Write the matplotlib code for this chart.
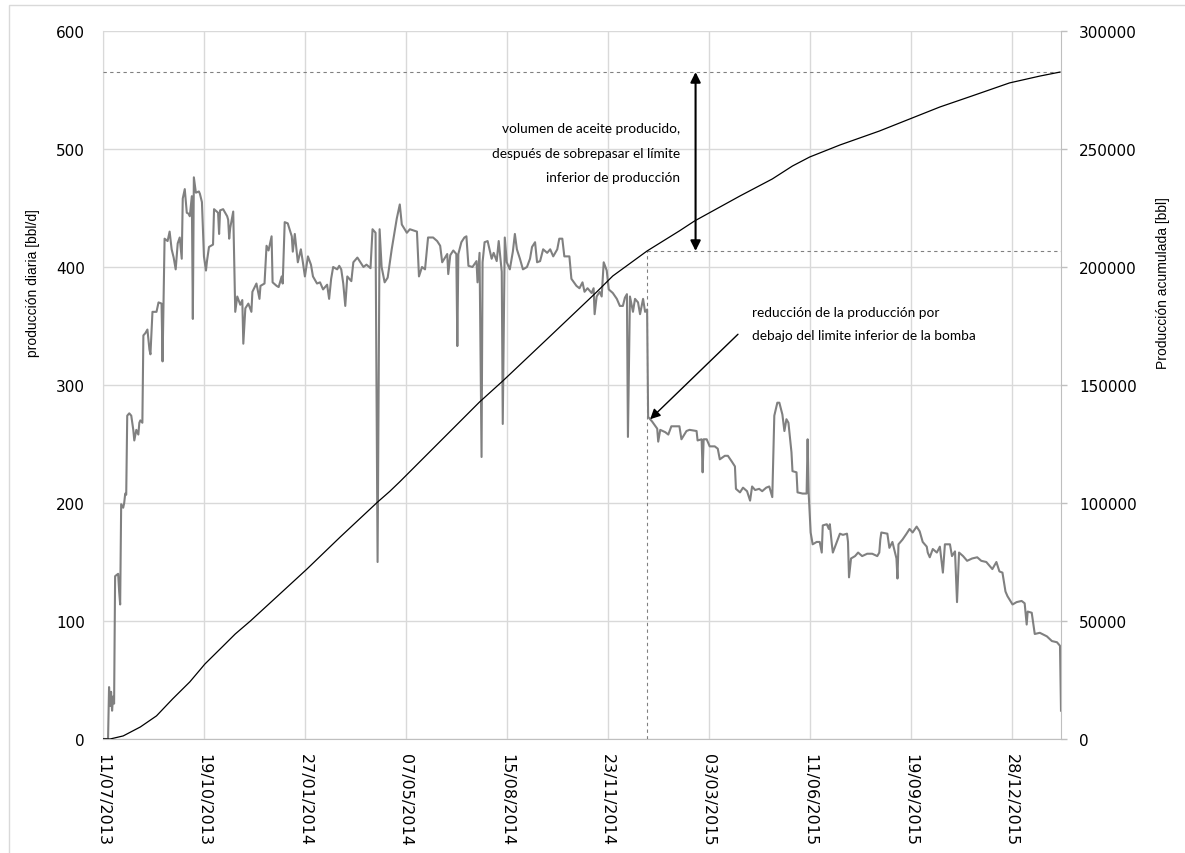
import numpy as np
import matplotlib
matplotlib.use("Agg")
import matplotlib.pyplot as plt
import matplotlib.dates as mdates
from matplotlib.patches import Rectangle
from matplotlib import font_manager

# ---- data ---------------------------------------------------------------
start_date = np.datetime64("2013-07-11")

# daily oil production: day offset from start_date, rate in bbl/d
prod_day = [
    0, 5, 6, 7, 8, 9, 10, 11, 12, 15, 16, 17, 18, 20, 21, 22, 23, 24, 26, 28,
    30, 31, 33, 35, 36, 37, 39, 40, 42, 44, 46, 47, 48, 49, 53, 55, 58, 59, 61, 64,
    66, 68, 70, 72, 74, 76, 78, 79, 81, 83, 85, 86, 88, 89, 90, 92, 95, 96, 98, 99,
    100, 102, 103, 105, 109, 110, 114, 115, 116, 119, 123, 124, 125, 126, 129, 131, 133, 136, 138, 139,
    141, 144, 147, 148, 152, 155, 156, 160, 162, 164, 167, 168, 172, 174, 177, 178, 180, 183, 187, 188,
    190, 193, 196, 198, 200, 203, 206, 208, 212, 215, 218, 222, 224, 226, 228, 232, 234, 236, 238, 240,
    242, 246, 248, 252, 255, 258, 261, 265, 267, 270, 272, 274, 276, 279, 282, 286, 291, 294, 296, 301,
    304, 311, 313, 316, 319, 322, 327, 331, 334, 336, 341, 342, 344, 347, 350, 351, 352, 355, 358, 360,
    362, 366, 370, 371, 373, 375, 376, 378, 381, 385, 387, 390, 392, 395, 396, 398, 400, 403, 406, 408,
    410, 413, 416, 420, 423, 425, 428, 430, 433, 436, 440, 443, 446, 450, 452, 455, 457, 462, 464, 469,
    472, 475, 477, 480, 484, 486, 487, 489, 492, 494, 496, 499, 501, 505, 509, 512, 515, 517, 519, 520,
    522, 525, 527, 530, 532, 535, 537, 539, 540, 542, 544, 549, 550, 552, 557, 560, 563, 568, 571, 573,
    578, 581, 588, 589, 593, 594, 595, 598, 601, 606, 609, 611, 616, 619, 623, 626, 627, 631, 634, 638,
    641, 643, 646, 650, 653, 657, 660, 663, 665, 668, 670, 673, 675, 677, 679, 682, 683, 687, 688, 693,
    697, 698, 699, 701, 703, 707, 710, 712, 713, 717, 719, 720, 722, 723, 727, 730, 733, 737, 738, 739,
    741, 745, 748, 752, 757, 762, 767, 769, 770, 771, 777, 779, 782, 786, 787, 788, 792, 796, 799, 802,
    806, 809, 812, 816, 817, 819, 822, 826, 829, 832, 834, 839, 841, 844, 846, 848, 852, 856, 861, 866,
    870, 875, 878, 881, 885, 888, 891, 894, 896, 901, 905, 910, 913, 915, 916, 920, 923, 928, 935, 940,
    945, 948, 949,
]
prod_bbl = [
    0, 0, 44, 28, 40, 24, 36, 30, 138, 140, 125, 114, 199, 196, 200, 208, 207, 274, 276, 274,
    262, 253, 262, 258, 268, 270, 268, 342, 344, 347, 330, 326, 345, 362, 362, 370, 369, 320, 424, 422,
    430, 415, 408, 398, 420, 425, 407, 458, 466, 446, 445, 443, 460, 356, 476, 463, 464, 462, 455, 432,
    409, 397, 405, 417, 419, 449, 446, 428, 448, 449, 443, 440, 424, 433, 447, 362, 375, 368, 372, 335,
    365, 369, 362, 379, 386, 373, 384, 386, 418, 414, 426, 387, 384, 383, 392, 386, 438, 437, 426, 413,
    428, 404, 415, 404, 392, 409, 402, 392, 386, 387, 381, 385, 373, 390, 400, 398, 401, 398, 386, 367,
    392, 388, 404, 408, 404, 400, 402, 399, 432, 429, 150, 432, 400, 387, 391, 415, 441, 453, 436, 429,
    432, 430, 392, 400, 398, 425, 425, 422, 418, 404, 411, 394, 410, 414, 411, 333, 411, 421, 425, 426,
    401, 400, 405, 387, 412, 239, 404, 421, 422, 407, 412, 405, 422, 396, 267, 425, 404, 398, 413, 428,
    415, 407, 398, 400, 407, 417, 421, 404, 405, 415, 412, 415, 409, 415, 424, 424, 409, 409, 390, 384,
    382, 387, 379, 382, 378, 382, 360, 375, 379, 375, 404, 397, 381, 378, 373, 367, 367, 374, 377, 256,
    375, 362, 373, 370, 360, 373, 362, 364, 273, 271, 269, 263, 252, 262, 260, 258, 265, 265, 265, 254,
    261, 262, 261, 253, 254, 226, 254, 254, 248, 248, 246, 237, 240, 240, 235, 231, 212, 209, 213, 210,
    202, 214, 211, 212, 210, 213, 214, 205, 274, 285, 285, 275, 261, 271, 268, 243, 227, 226, 209, 208,
    208, 254, 209, 175, 165, 167, 167, 158, 181, 182, 178, 182, 165, 158, 167, 174, 173, 174, 167, 137,
    153, 155, 158, 155, 157, 157, 155, 158, 169, 175, 174, 162, 167, 153, 136, 165, 169, 174, 178, 175,
    180, 176, 167, 163, 158, 154, 161, 158, 163, 141, 165, 165, 155, 159, 116, 158, 155, 151, 153, 154,
    151, 150, 147, 144, 150, 142, 141, 125, 121, 114, 116, 117, 115, 97, 108, 107, 89, 90, 87, 83,
    82, 79, 24,
]

# cumulative production: day offset from start_date, volume in bbl
cum_day = [0, 7, 20, 37, 53, 69, 86, 101, 119, 131, 146, 172, 202, 235, 272, 284, 294,
           373, 396, 440, 489, 505, 539, 571, 586, 631, 663, 683, 700, 730, 769, 799,
           829, 861, 898, 928, 948]
cum_bbl = [0, 0, 1300, 5100, 9800, 17000, 24200, 31800, 39400, 44500, 50000, 60200,
           72000, 85600, 100400, 104900, 109000, 142800, 151700, 169500, 189400, 196200,
           206800, 215300, 219500, 230100, 237300, 242800, 246600, 251700, 257600, 262700,
           267800, 272500, 278000, 280900, 282600]

# day the rate fell below the pump's lower limit
drop_day = 539

tick_step_days = 100
n_date_ticks = 10

left_label = "producción diaria [bbl/d]"
right_label = "Producción acumulada [bbl]"
note_volume = "volumen de aceite producido,\ndespués de sobrepasar el límite\ninferior de producción"
note_drop = "reducción de la producción por\ndebajo del limite inferior de la bomba"

# ---- derived values -----------------------------------------------------
def to_dates(days):
    return start_date + np.asarray(days).astype("timedelta64[D]")

prod_dates = to_dates(prod_day)
cum_dates = to_dates(cum_day)
cum_at_drop = float(np.interp(drop_day, cum_day, cum_bbl))
cum_final = float(cum_bbl[-1])

def dnum(day):
    return mdates.date2num(to_dates([day])[0])

# narrow face for the axis titles, if one is installed
installed = {f.name for f in font_manager.fontManager.ttflist}
narrow = [n for n in ("Liberation Sans Narrow", "DejaVu Sans Condensed") if n in installed]
if narrow:
    label_kw = dict(family=[narrow[0], "DejaVu Sans"], fontsize=11)
else:
    label_kw = dict(family=["Liberation Sans", "DejaVu Sans"], fontsize=10)

# ---- figure -------------------------------------------------------------
W, H = 1185, 854
fig = plt.figure(figsize=(W / 100, H / 100), dpi=100)
fig.patch.set_facecolor("white")

# outer chart border
fig.add_artist(Rectangle((8.5 / W, -0.05), 1.1, 1 - 5.5 / H + 0.05,
                         transform=fig.transFigure, fill=False,
                         edgecolor="#d9d9d9", lw=1.0))

L, R, T, B = 103, 1061, 32, 740
ax = fig.add_axes([L / W, 1 - B / H, (R - L) / W, (B - T) / H])
ax2 = ax.twinx()

grid_c = "#d9d9d9"
axis_c = "#bfbfbf"

# daily production (left axis)
ax.plot(prod_dates, prod_bbl, color="#808080", lw=1.5, zorder=3)
ax.set_ylim(0, 600)
ax.set_yticks(np.arange(0, 601, 100))
ax.set_xlim(start_date, to_dates([prod_day[-1]])[0])

xt = to_dates(np.arange(n_date_ticks) * tick_step_days)
ax.set_xticks(xt)
ax.xaxis.set_major_formatter(mdates.DateFormatter("%d/%m/%Y"))
ax.grid(True, color=grid_c, lw=1.0, zorder=0)
ax.set_axisbelow(True)

for lab in ax.get_xticklabels():
    lab.set_rotation(-90)
    lab.set_ha("center")
    lab.set_va("top")
    lab.set_fontfamily("DejaVu Sans")
    lab.set_fontsize(11.5)
for lab in ax.get_yticklabels():
    lab.set_fontfamily("DejaVu Sans")
    lab.set_fontsize(11)
ax.tick_params(axis="x", length=0, pad=10)
ax.tick_params(axis="y", length=0, pad=13)

# cumulative production (right axis)
ax2.plot(cum_dates, cum_bbl, color="black", lw=0.9, zorder=4)
ax2.set_ylim(0, 300000)
ax2.set_yticks(np.arange(0, 300001, 50000))
ax2.tick_params(axis="y", direction="out", length=4, width=1, color=axis_c, pad=9)
for lab in ax2.get_yticklabels():
    lab.set_fontfamily("DejaVu Sans")
    lab.set_fontsize(11)

for a in (ax, ax2):
    for s in a.spines.values():
        s.set_visible(False)
ax2.spines["right"].set_visible(True)
ax2.spines["right"].set_color(axis_c)
ax.spines["bottom"].set_visible(True)
ax.spines["bottom"].set_color(axis_c)
ax.spines["left"].set_visible(True)
ax.spines["left"].set_color(grid_c)

ax.set_ylabel(left_label, **label_kw)
ax.yaxis.set_label_coords(-0.066, (B - 283) / (B - T))
ax2.set_ylabel(right_label, **label_kw)
ax2.yaxis.set_label_coords(1.099, (B - 283) / (B - T))

# reference lines at the cumulative volume when the rate dropped and at the end
dot = dict(color="#808080", lw=0.8, ls=(0, (3, 3)), zorder=2)
ax2.axhline(cum_final, **dot)
ax2.plot([to_dates([drop_day])[0], to_dates([prod_day[-1]])[0]], [cum_at_drop, cum_at_drop], **dot)
ax2.plot([to_dates([drop_day])[0]] * 2, [0, cum_at_drop], **dot)

# double arrow: volume produced after passing the lower limit
arrow_day = 587
ax2.annotate("", xy=(dnum(arrow_day), cum_final), xytext=(dnum(arrow_day), cum_at_drop),
             arrowprops=dict(arrowstyle="<|-|>", color="black", lw=1.5,
                             mutation_scale=15, shrinkA=0, shrinkB=0), zorder=5)
note_font = ["Lato", "DejaVu Sans"]
ax.text(dnum(572), 497, note_volume, ha="right", va="center", family=note_font,
        fontsize=9.8, linespacing=2.25, zorder=6)

# arrow pointing to the drop in production
ax.annotate("", xy=(dnum(542), 271), xytext=(dnum(629), 343),
            arrowprops=dict(arrowstyle="-|>", color="black", lw=1.0,
                            mutation_scale=15, shrinkA=0, shrinkB=0), zorder=5)
ax.text(dnum(643), 352, note_drop, ha="left", va="center", family=note_font,
        fontsize=9.8, linespacing=2.05, zorder=6)

fig.savefig("out.png", dpi=100, facecolor="white")
